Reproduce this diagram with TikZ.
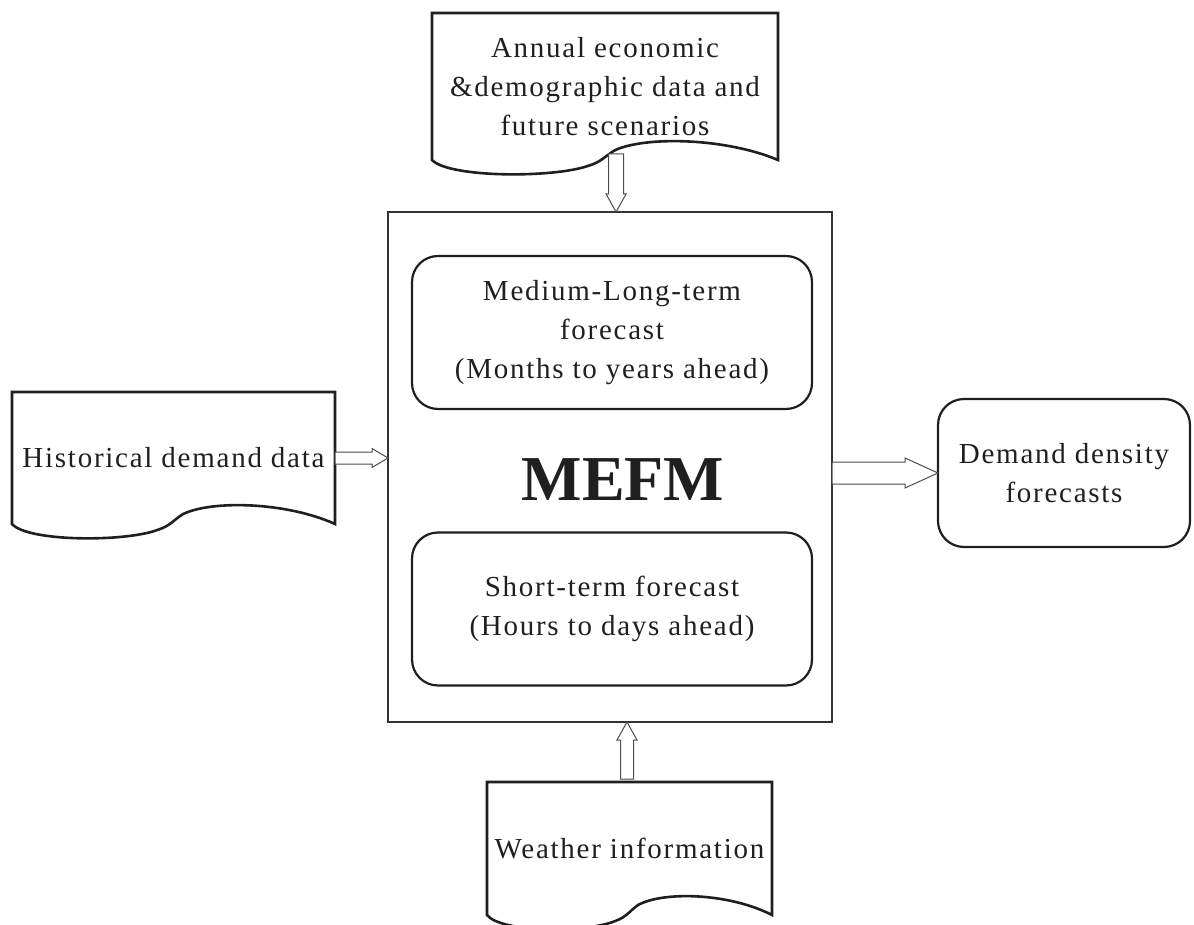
\documentclass[tikz,border=0pt]{standalone}
\usepackage{fontspec}
\setmainfont{Liberation Serif}[LetterSpace=6]
\newfontfamily\titlefont{Liberation Serif}
\usetikzlibrary{calc}

% document shape: rectangle with a wavy bottom
\newcommand{\docoutline}[1]{%
 \draw[docline] (#1.north west) -- (#1.north east) -- (#1.south east)
  .. controls ($(#1.south west)!0.85!(#1.south east)+(0,-22)$) and ($(#1.south west)!0.62!(#1.south east)+(0,-24)$) .. ($(#1.south west)!0.53!(#1.south east)+(0,-10)$)
  .. controls ($(#1.south west)!0.5!(#1.south east)+(0,-4)$) and ($(#1.south west)!0.49!(#1.south east)+(0,2)$) .. ($(#1.south west)!0.45!(#1.south east)+(0,6)$)
  .. controls ($(#1.south west)!0.35!(#1.south east)+(0,18)$) and ($(#1.south west)!0.05!(#1.south east)+(0,18)$) .. (#1.south west) -- cycle;}

% hollow block arrow: from, to, half shaft, half head, head length
\newcommand{\blockarrow}[5]{%
 \coordinate (ba) at ($(#2)!#5!(#1)$);
 \draw[fatarrow] ($(#1)!#3!90:(#2)$) -- ($(ba)!#3!90:(#2)$) -- ($(ba)!#4!90:(#2)$) -- (#2)
  -- ($(ba)!#4!-90:(#2)$) -- ($(ba)!#3!-90:(#2)$) -- ($(#1)!#3!-90:(#2)$) -- cycle;}

\begin{document}
\begin{tikzpicture}[x=0.5pt,y=-0.5pt,
 every node/.style={inner sep=0pt,outer sep=0pt,text=black!88,align=center,font=\fontsize{14.5}{19.5}\selectfont},
 docline/.style={line width=1.3pt,black!88},
 model/.style={draw=black!80,line width=0.6pt,minimum width=222pt,minimum height=255pt},
 horizon/.style={draw=black!88,line width=1.1pt,rounded corners=13pt,minimum width=200pt,minimum height=76.5pt},
 output/.style={draw=black!88,line width=1.1pt,rounded corners=13pt,minimum width=126pt,minimum height=74pt},
 fatarrow/.style={draw=black!70,line width=0.5pt,fill=white}]

 \useasboundingbox (0,0) rectangle (1194,925);

 \node[model] (mefm) at (610,467) {};
 \node (title) at (623,480) {\titlefont\fontsize{32}{36}\selectfont\bfseries MEFM};

 \node[horizon] (mlt) at (612,332.5) {Medium-Long-term\\forecast\\(Months to years ahead)};
 \node[horizon] (st) at (612,609) {\fontsize{14.5}{18}\selectfont Short-term forecast\\(Hours to days ahead)};

 \node[minimum width=173pt,minimum height=73.5pt] (econ) at (605,86.5) {Annual economic\\\&demographic data and\\future scenarios};
 \node[minimum width=161.5pt,minimum height=66pt] (hist) at (173.5,458) {Historical demand data};
 \node[minimum width=142.5pt,minimum height=66.5pt] (wthr) at (629.5,848.5) {Weather information};
 \node[output] (dens) at (1064,473) {Demand density\\forecasts};

 \docoutline{econ}
 \docoutline{hist}
 \docoutline{wthr}

 \coordinate (ein) at ($(econ.south west)!0.532!(econ.south east)+(0,-6)$);
 \coordinate (win) at ($(wthr.north)+(-2.5,-3)$);

 \blockarrow{ein}{ein |- mefm.north}{3.75pt}{5pt}{9pt}
 \blockarrow{hist.east}{hist.east -| mefm.west}{3pt}{4.75pt}{8pt}
 \blockarrow{mefm.east |- dens.west}{dens.west}{5.5pt}{7.5pt}{16.5pt}
 \blockarrow{win}{win |- mefm.south}{3.25pt}{5pt}{9pt}

\end{tikzpicture}
\end{document}
